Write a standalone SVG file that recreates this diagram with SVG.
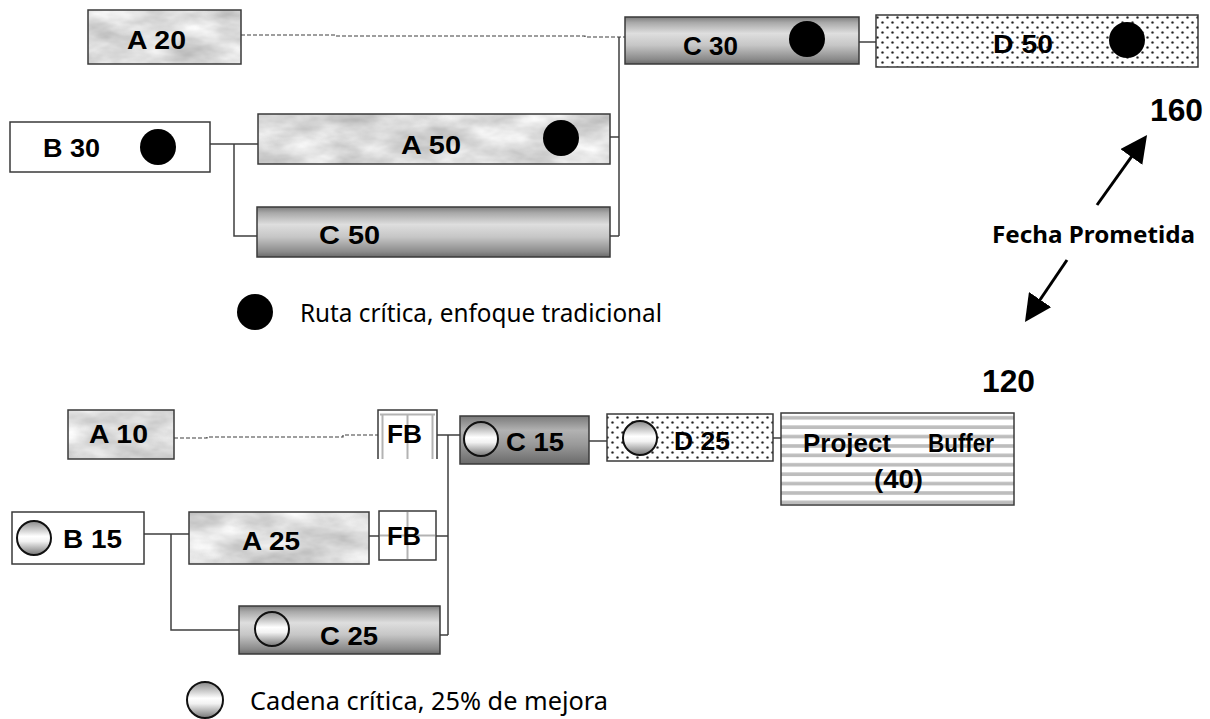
<svg xmlns="http://www.w3.org/2000/svg" width="1210" height="719" viewBox="0 0 1210 719">
<style>
.lbl{font-family:"Liberation Sans",Arial,Helvetica,sans-serif;font-weight:bold;font-size:25px;fill:#000}
.num{font-family:"Liberation Sans",Arial,Helvetica,sans-serif;font-weight:bold;font-size:31px;fill:#000}
.note{font-family:"Noto Sans","Open Sans",sans-serif;font-size:25px;fill:#000}
.noteb{font-family:"Noto Sans","Open Sans",sans-serif;font-weight:bold;font-size:24px;fill:#000}
.box{fill:none;stroke:#3a3a3a;stroke-width:1.5}
.white{fill:#fff;stroke:#3a3a3a;stroke-width:1.5}
.marble{fill:#fff;filter:url(#marble)}
.cyl{fill:url(#cyl);stroke:#3a3a3a;stroke-width:1.5}
.cyld{fill:url(#cyld);stroke:#3a3a3a;stroke-width:1.5}
.dots{fill:url(#dots);stroke:#3a3a3a;stroke-width:1.5}
.stripes{fill:url(#stripes);stroke:#3a3a3a;stroke-width:1.5}
.crit{fill:#000}
.chain{fill:url(#ball);stroke:#111;stroke-width:2}
.grid{stroke:#b3b3b3;stroke-width:2;fill:none}
.conn{fill:none;stroke:#3f3f3f;stroke-width:1.5}
.dash{fill:none;stroke:#3f3f3f;stroke-width:1.2;stroke-dasharray:4 2}
.arrow{fill:none;stroke:#000;stroke-width:3;marker-end:url(#head)}
</style>
<defs>
<filter id="marble" x="0" y="0" width="1" height="1" color-interpolation-filters="sRGB">
<feTurbulence type="fractalNoise" baseFrequency="0.018 0.04" numOctaves="4" seed="7" result="n"/>
<feColorMatrix in="n" type="matrix" values="0.42 0 0 0 0.65  0.42 0 0 0 0.65  0.42 0 0 0 0.65  0 0 0 0 1" result="g"/>
<feComposite in="g" in2="SourceGraphic" operator="in"/>
</filter>
<linearGradient id="cyl" x1="0" y1="0" x2="0" y2="1">
<stop offset="0" stop-color="#7d7d7d"/>
<stop offset="0.12" stop-color="#a9a9a9"/>
<stop offset="0.35" stop-color="#dedede"/>
<stop offset="0.6" stop-color="#c6c6c6"/>
<stop offset="0.9" stop-color="#8a8a8a"/>
<stop offset="1" stop-color="#6a6a6a"/>
</linearGradient>
<linearGradient id="cyld" x1="0" y1="0" x2="0" y2="1">
<stop offset="0" stop-color="#7a7a7a"/>
<stop offset="0.3" stop-color="#b2b2b2"/>
<stop offset="0.6" stop-color="#999"/>
<stop offset="1" stop-color="#6a6a6a"/>
</linearGradient>
<linearGradient id="ball" x1="0" y1="0" x2="0" y2="1">
<stop offset="0" stop-color="#8a8a8a"/>
<stop offset="0.45" stop-color="#fff"/>
<stop offset="0.6" stop-color="#f2f2f2"/>
<stop offset="1" stop-color="#767676"/>
</linearGradient>
<pattern id="dots" width="10" height="10" patternUnits="userSpaceOnUse">
<rect width="10" height="10" fill="#fff"/>
<circle cx="2.5" cy="2.5" r="1.6" fill="#bbb"/>
<circle cx="7.5" cy="7.5" r="1.6" fill="#bbb"/>
<circle cx="2.5" cy="2.5" r="1.1" fill="#222"/>
<circle cx="7.5" cy="7.5" r="1.1" fill="#222"/>
</pattern>
<pattern id="stripes" x="0" y="413" width="10" height="9.4" patternUnits="userSpaceOnUse">
<rect width="10" height="9.4" fill="#fff"/>
<rect y="3" width="10" height="3.6" fill="#bdbdbd"/>
</pattern>
<marker id="head" viewBox="0 0 10 10" markerWidth="9" markerHeight="9" refX="8" refY="5" orient="auto">
<path d="M0,0 L10,5 L0,10 z" fill="#000"/>
</marker>
</defs>

<g id="connectors">
<path class="dash" d="M241,35 H335 V36 H585 V37 H625"/>
<path class="conn" d="M619,37 V236 M610,137 H619 M610,236 H619"/>
<path class="conn" d="M210,144 H258 M234,144 V236 H257"/>
<path class="conn" d="M859,42 H876"/>
<path class="dash" d="M174,438 H207 V437 H343 V435 H378"/>
<path class="conn" d="M437,435 H460 M448,435 V635 M436,536 H448 M437,635 H448"/>
<path class="conn" d="M369,536 H379"/>
<path class="conn" d="M144,534 H189 M171,534 V630 H239"/>
<path class="conn" d="M589,441 H607"/>
<path class="conn" d="M773,438 H781"/>
<path class="arrow" d="M1097,205 L1143.9,139.4"/>
<path class="arrow" d="M1067,260 L1028,317.5"/>
</g>

<g id="top-A20">
<rect class="marble" x="88" y="10" width="153" height="54"/>
<rect class="box" x="88" y="10" width="153" height="54"/>
<text class="lbl" x="127" y="49" textLength="59" lengthAdjust="spacingAndGlyphs">A 20</text>
</g>
<g id="top-B30">
<rect class="white" x="10" y="122" width="200" height="50"/>
<text class="lbl" x="43" y="157" textLength="57" lengthAdjust="spacingAndGlyphs">B 30</text>
<circle class="crit" cx="158" cy="147" r="18"/>
</g>
<g id="top-A50">
<rect class="marble" x="258" y="114" width="352" height="50"/>
<rect class="box" x="258" y="114" width="352" height="50"/>
<text class="lbl" x="401" y="154" textLength="60" lengthAdjust="spacingAndGlyphs">A 50</text>
<circle class="crit" cx="561" cy="138" r="18"/>
</g>
<g id="top-C50">
<rect class="cyl" x="257" y="207" width="353" height="50"/>
<text class="lbl" x="319" y="244" textLength="61" lengthAdjust="spacingAndGlyphs">C 50</text>
</g>
<g id="top-C30">
<rect class="cyl" x="625" y="17" width="234" height="47"/>
<text class="lbl" x="683" y="55" textLength="55" lengthAdjust="spacingAndGlyphs">C 30</text>
<circle class="crit" cx="807" cy="39" r="18"/>
</g>
<g id="top-D50">
<rect class="dots" x="876" y="15" width="322" height="52"/>
<text class="lbl" x="993" y="53" textLength="60" lengthAdjust="spacingAndGlyphs">D 50</text>
<circle class="crit" cx="1127" cy="40" r="18"/>
</g>
<g id="label-160">
<text class="num" x="1150" y="121" textLength="53" lengthAdjust="spacingAndGlyphs">160</text>
</g>
<g id="label-fecha">
<text class="noteb" x="992" y="243" textLength="203" lengthAdjust="spacingAndGlyphs">Fecha Prometida</text>
</g>
<g id="legend-ruta">
<circle class="crit" cx="255" cy="312" r="18"/>
<text class="note" x="300" y="322" textLength="362" lengthAdjust="spacingAndGlyphs">Ruta crítica, enfoque tradicional</text>
</g>
<g id="label-120">
<text class="num" x="982" y="392" textLength="53" lengthAdjust="spacingAndGlyphs">120</text>
</g>

<g id="bot-A10">
<rect class="marble" x="68" y="410" width="106" height="49"/>
<rect class="box" x="68" y="410" width="106" height="49"/>
<text class="lbl" x="89" y="443" textLength="59" lengthAdjust="spacingAndGlyphs">A 10</text>
</g>
<g id="bot-FB1">
<rect x="378" y="410" width="59" height="49" fill="#fff"/>
<path class="grid" d="M380,414.5 H435 M382.5,414 V459 M407.5,414 V459 M432.5,414 V459"/>
<path class="box" d="M378,459 V410 H437 V459"/>
<text class="lbl" x="387" y="443" textLength="35" lengthAdjust="spacingAndGlyphs">FB</text>
</g>
<g id="bot-B15">
<rect class="white" x="12" y="512" width="132" height="52"/>
<circle class="chain" cx="34" cy="538" r="17"/>
<text class="lbl" x="63" y="548" textLength="59" lengthAdjust="spacingAndGlyphs">B 15</text>
</g>
<g id="bot-A25">
<rect class="marble" x="189" y="512" width="180" height="52"/>
<rect class="box" x="189" y="512" width="180" height="52"/>
<text class="lbl" x="242" y="550" textLength="58" lengthAdjust="spacingAndGlyphs">A 25</text>
</g>
<g id="bot-FB2">
<rect x="379" y="511" width="57" height="49" fill="#fff"/>
<path class="grid" d="M407.5,512 V559 M380,535.5 H435"/>
<rect class="box" x="379" y="511" width="57" height="49"/>
<text class="lbl" x="387" y="545" textLength="34" lengthAdjust="spacingAndGlyphs">FB</text>
</g>
<g id="bot-C25">
<rect class="cyl" x="239" y="606" width="201" height="48"/>
<circle class="chain" cx="272" cy="629" r="17"/>
<text class="lbl" x="320" y="645" textLength="58" lengthAdjust="spacingAndGlyphs">C 25</text>
</g>
<g id="bot-C15">
<rect class="cyld" x="460" y="416" width="129" height="48"/>
<circle class="chain" cx="481" cy="439" r="17"/>
<text class="lbl" x="506" y="451" textLength="58" lengthAdjust="spacingAndGlyphs">C 15</text>
</g>
<g id="bot-D25">
<rect class="dots" x="607" y="414" width="166" height="47"/>
<circle class="chain" cx="640" cy="438" r="17"/>
<text class="lbl" x="674" y="450" textLength="56" lengthAdjust="spacingAndGlyphs">D 25</text>
</g>
<g id="bot-PB">
<rect class="stripes" x="781" y="413" width="233" height="92"/>
<text class="lbl" x="803" y="452" textLength="88" lengthAdjust="spacingAndGlyphs">Project</text>
<text class="lbl" x="928" y="452" textLength="66" lengthAdjust="spacingAndGlyphs">Buffer</text>
<text class="lbl" x="874" y="488" textLength="49" lengthAdjust="spacingAndGlyphs">(40)</text>
</g>
<g id="legend-cadena">
<circle class="chain" cx="205" cy="700" r="18"/>
<text class="note" x="250" y="710" textLength="358" lengthAdjust="spacingAndGlyphs">Cadena crítica, 25% de mejora</text>
</g>
</svg>
